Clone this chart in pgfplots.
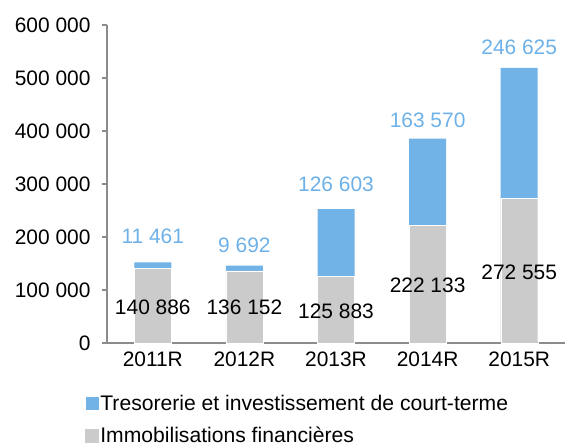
\documentclass[border=0pt]{standalone}
\usepackage{fontspec}
\setmainfont{Liberation Sans}
\usepackage{pgfplots}
\pgfplotsset{compat=1.18}
\definecolor{cblue}{HTML}{72B3E7}
\definecolor{cgray}{HTML}{CBCBCB}
\definecolor{caxis}{HTML}{8C8C8C}
\definecolor{clab}{HTML}{6DB1E8}
\newcommand{\lf}{\fontsize{21}{24}\selectfont}
\newcommand{\legf}{\fontsize{21.2}{24}\selectfont}
\begin{document}
\begin{tikzpicture}[x=1bp,y=1bp]
\useasboundingbox (0,0) rectangle (565,446);
\begin{axis}[
  at={(107bp,103bp)}, anchor=south west,
  scale only axis, width=458bp, height=318bp,
  xmin=-0.5, xmax=4.5, ymin=0, ymax=600000,
  ybar stacked, bar width=37bp,
  axis x line*=bottom, axis y line*=left,
  axis line style={caxis, line width=1.2bp},
  every tick/.style={caxis, line width=1.2bp},
  major tick length=5bp, tick align=outside,
  xtick={0,1,2,3,4}, xticklabels={2011R,2012R,2013R,2014R,2015R},
  xtick style={draw=none},
  extra x ticks={-0.5,0.5,1.5,2.5,3.5,4.5}, extra x tick labels={},
  extra x tick style={xtick style={caxis, line width=1.2bp}},
  scaled y ticks=false,
  ytick={0,100000,200000,300000,400000,500000,600000},
  yticklabels={0,100 000,200 000,300 000,400 000,500 000,600 000},
  tick label style={font=\lf, text=black},
  yticklabel style={xshift=-8bp},
  xticklabel style={yshift=0bp},
  clip=false,
  legend style={at={(axis description cs:-0.054,-0.152)}, anchor=north west,
    draw=none, fill=none, font=\legf, row sep=12bp,
    nodes={inner sep=1.5bp}},
  legend cell align=left,
  reverse legend,
]
\addplot[fill=cgray, draw=white, line width=0.4bp,
  legend image code/.code={\fill[cgray] (0bp,-6.5bp) rectangle (13bp,6.5bp);}]
  coordinates {(0,140886) (1,136152) (2,125883) (3,222133) (4,272555)};
\addlegendentry{Immobilisations financières}
\addplot[fill=cblue, draw=none,
  legend image code/.code={\fill[cblue] (0bp,-6.5bp) rectangle (13bp,6.5bp);}]
  coordinates {(0,11461) (1,9692) (2,126603) (3,163570) (4,246625)};
\addlegendentry{Tresorerie et investissement de court-terme}
\coordinate (g0) at (axis cs:0,68000);
\coordinate (g1) at (axis cs:1,68000);
\coordinate (g2) at (axis cs:2,59000);
\coordinate (g3) at (axis cs:3,109000);
\coordinate (g4) at (axis cs:4,133000);
\coordinate (b0) at (axis cs:0,202000);
\coordinate (b1) at (axis cs:1,185000);
\coordinate (b2) at (axis cs:2,300000);
\coordinate (b3) at (axis cs:3,421000);
\coordinate (b4) at (axis cs:4,557000);
\end{axis}
\node[font=\lf] at (g0) {140 886};
\node[font=\lf] at (g1) {136 152};
\node[font=\lf] at (g2) {125 883};
\node[font=\lf] at (g3) {222 133};
\node[font=\lf] at (g4) {272 555};
\node[font=\lf, text=clab] at (b0) {11 461};
\node[font=\lf, text=clab] at (b1) {9 692};
\node[font=\lf, text=clab] at (b2) {126 603};
\node[font=\lf, text=clab] at (b3) {163 570};
\node[font=\lf, text=clab] at (b4) {246 625};
\end{tikzpicture}
\end{document}
